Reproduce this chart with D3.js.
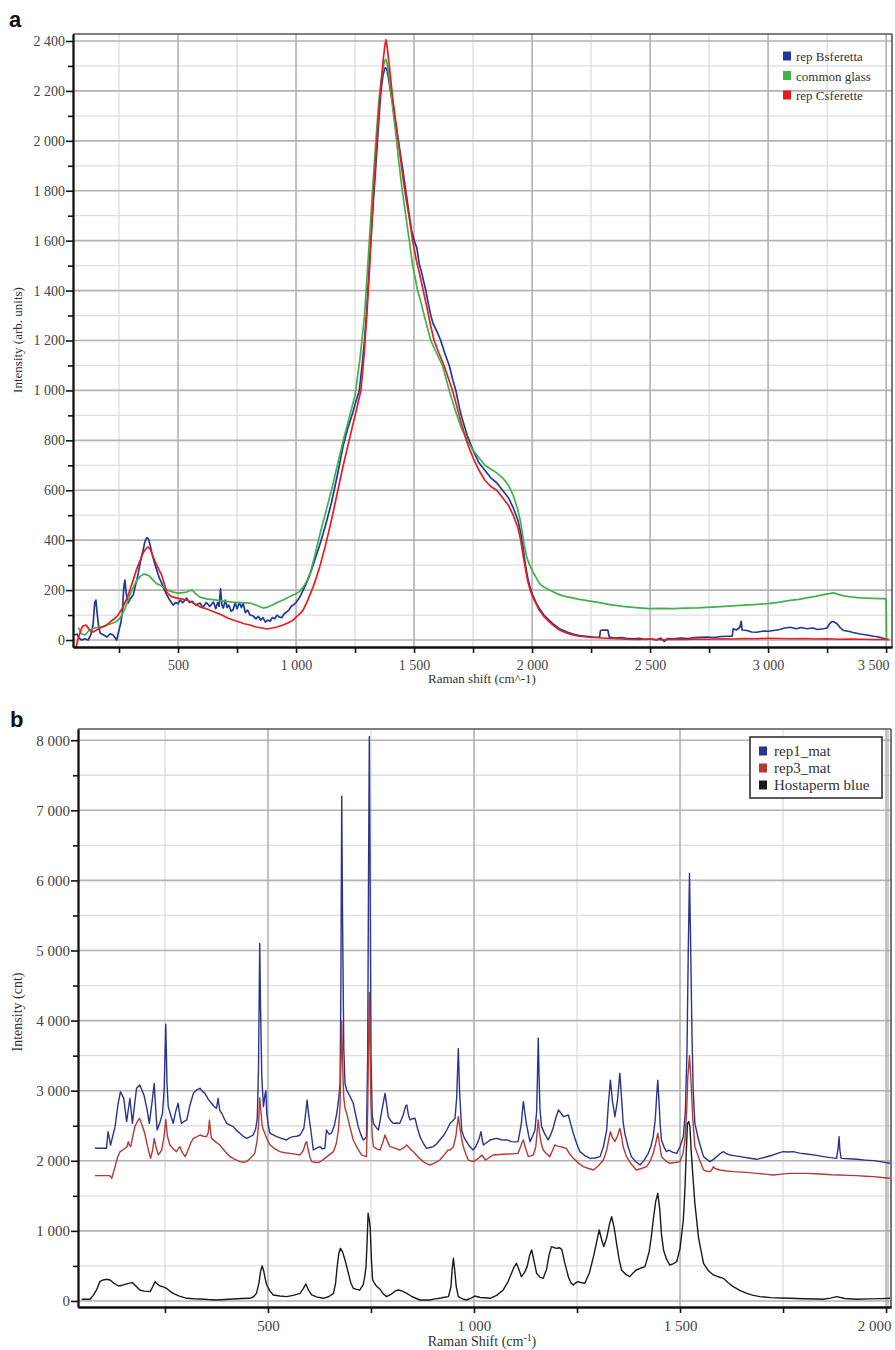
<!DOCTYPE html>
<html><head><meta charset="utf-8">
<script src="https://cdn.jsdelivr.net/npm/d3@7"></script>
<style>body{margin:0;background:#fff}svg{display:block}</style>
</head><body>
<svg id="chart" width="895" height="1350"></svg>
<script>
// ---------- Panel a data ----------
const aYTicks = [0,200,400,600,800,1000,1200,1400,1600,1800,2000,2200,2400];
const aYMinor = [100,300,500,700,900,1100,1300,1500,1700,1900,2100,2300];
const aXTicks = [500,1000,1500,2000,2500,3000,3500];
const aXMinor = [250,750,1250,1750,2250,2750,3250];
const aSeriesNames = ["rep Bsferetta","common glass","rep Csferette"];
const repB = [[60,20],[72,24],[80,8],[92,0],[105,5],[119,0],[130,20],[140,60],[147,150],[152,160],[157,110],[163,60],[170,28],[185,20],[199,12],[212,25],[225,20],[240,0],[250,40],[258,70],[265,120],[270,210],[275,240],[280,190],[288,148],[298,165],[310,180],[320,220],[330,260],[340,310],[352,360],[360,395],[368,410],[375,405],[382,380],[390,345],[400,310],[410,280],[420,250],[430,230],[440,205],[453,180],[465,160],[479,140],[490,150],[500,145],[509,160],[520,150],[537,168],[548,150],[560,155],[575,140],[593,148],[605,130],[620,150],[635,135],[650,152],[660,125],[668,150],[674,135],[680,205],[686,140],[692,128],[700,160],[708,130],[715,140],[725,115],[733,120],[742,150],[750,125],[760,150],[768,130],[776,148],[785,110],[795,120],[805,100],[819,96],[830,85],[840,95],[850,80],[860,90],[870,72],[880,80],[890,75],[900,90],[910,85],[919,100],[930,92],[940,90],[950,105],[960,112],[970,120],[980,135],[988,140],[1000,150],[1016,172],[1030,200],[1044,228],[1058,260],[1072,300],[1086,340],[1100,380],[1125,460],[1150,550],[1175,660],[1200,780],[1220,850],[1240,910],[1255,960],[1268,1000],[1280,1100],[1290,1200],[1300,1330],[1310,1500],[1320,1650],[1327,1750],[1336,1870],[1345,2000],[1352,2100],[1360,2200],[1368,2260],[1373,2280],[1378,2293],[1384,2290],[1390,2260],[1400,2200],[1410,2150],[1420,2080],[1435,1990],[1450,1900],[1465,1800],[1480,1700],[1490,1640],[1501,1600],[1512,1570],[1522,1507],[1530,1480],[1540,1440],[1550,1400],[1560,1350],[1571,1300],[1580,1270],[1590,1250],[1600,1230],[1613,1200],[1630,1150],[1649,1100],[1665,1040],[1677,1000],[1690,940],[1700,900],[1725,820],[1750,760],[1775,710],[1800,680],[1825,650],[1850,630],[1875,600],[1900,570],[1920,530],[1940,480],[1952,430],[1962,370],[1972,300],[1982,247],[1992,210],[2003,180],[2017,150],[2031,126],[2050,100],[2074,78],[2095,60],[2116,45],[2145,33],[2173,24],[2200,18],[2229,15],[2260,12],[2286,11],[2290,38],[2300,40],[2321,40],[2327,12],[2350,8],[2380,10],[2399,7],[2430,5],[2456,7],[2480,2],[2500,5],[2527,0],[2545,8],[2560,-5],[2575,6],[2598,5],[2630,8],[2660,6],[2690,10],[2711,11],[2740,12],[2770,10],[2800,14],[2838,15],[2848,15],[2852,45],[2865,40],[2880,50],[2886,75],[2890,40],[2910,38],[2930,32],[2952,31],[2980,36],[3000,35],[3023,38],[3050,42],[3070,48],[3093,51],[3120,45],[3140,50],[3164,45],[3190,48],[3210,42],[3235,45],[3250,48],[3260,65],[3270,74],[3280,72],[3292,65],[3305,50],[3320,38],[3340,35],[3360,30],[3390,24],[3420,20],[3447,15],[3470,12],[3497,4],[3510,2]];
const glass = [[78,50],[90,25],[106,20],[120,35],[140,45],[155,50],[170,52],[200,60],[225,68],[240,75],[254,88],[270,115],[284,148],[300,190],[315,220],[326,240],[340,255],[350,262],[360,264],[370,260],[380,255],[394,240],[402,232],[410,225],[420,222],[437,212],[455,200],[479,192],[500,188],[520,190],[537,192],[550,198],[560,200],[575,185],[593,172],[620,165],[645,162],[665,160],[700,155],[733,152],[770,150],[805,148],[835,138],[861,128],[880,132],[900,140],[920,150],[945,160],[965,170],[988,180],[1000,185],[1015,195],[1030,212],[1045,235],[1060,268],[1080,340],[1100,420],[1125,510],[1150,600],[1175,700],[1200,800],[1225,890],[1250,980],[1270,1120],[1290,1300],[1306,1530],[1322,1773],[1336,1970],[1350,2150],[1360,2240],[1370,2300],[1376,2320],[1381,2327],[1388,2300],[1395,2250],[1407,2150],[1420,2050],[1435,1920],[1450,1800],[1465,1700],[1480,1600],[1494,1500],[1505,1450],[1515,1400],[1530,1350],[1543,1300],[1557,1250],[1571,1200],[1595,1150],[1620,1100],[1635,1050],[1649,1000],[1675,920],[1700,850],[1725,800],[1750,760],[1775,730],[1800,700],[1825,685],[1850,670],[1875,650],[1900,620],[1920,580],[1940,520],[1952,470],[1960,420],[1967,380],[1978,330],[1990,300],[2003,274],[2017,250],[2031,227],[2050,212],[2074,200],[2100,188],[2130,177],[2165,170],[2201,163],[2240,157],[2286,150],[2330,142],[2385,135],[2440,130],[2496,126],[2550,127],[2598,126],[2650,128],[2700,129],[2739,131],[2800,134],[2850,137],[2881,139],[2940,142],[3001,146],[3050,152],[3093,159],[3130,163],[3164,169],[3200,175],[3235,182],[3260,186],[3277,189],[3300,182],[3320,177],[3350,173],[3390,169],[3440,167],[3490,166],[3500,165],[3502,4],[3510,0]];
const repC = [[68,-30],[75,0],[85,30],[95,55],[110,60],[118,50],[125,40],[140,32],[155,40],[170,48],[190,55],[212,72],[230,85],[246,100],[265,130],[284,168],[298,205],[310,240],[325,285],[340,320],[350,345],[360,360],[368,370],[375,372],[383,362],[390,345],[400,320],[410,300],[420,280],[430,262],[440,230],[453,190],[470,175],[495,168],[515,165],[537,160],[560,150],[593,133],[620,125],[645,115],[665,108],[690,98],[710,88],[733,80],[760,72],[780,65],[805,60],[830,52],[855,48],[877,44],[900,48],[920,52],[945,60],[965,68],[988,80],[1000,92],[1015,105],[1030,120],[1050,160],[1072,212],[1086,250],[1100,292],[1125,380],[1150,480],[1175,590],[1200,700],[1220,780],[1240,860],[1258,930],[1275,1000],[1288,1140],[1300,1300],[1314,1530],[1327,1773],[1341,1980],[1355,2173],[1363,2260],[1370,2330],[1376,2380],[1381,2405],[1387,2370],[1395,2300],[1402,2240],[1409,2173],[1425,2060],[1440,1950],[1452,1860],[1465,1773],[1480,1690],[1494,1600],[1510,1520],[1525,1460],[1539,1400],[1555,1330],[1570,1260],[1585,1200],[1605,1150],[1627,1100],[1645,1050],[1663,1000],[1680,940],[1700,870],[1725,790],[1750,730],[1775,680],[1800,640],[1825,615],[1850,600],[1875,570],[1900,540],[1920,500],[1940,450],[1952,400],[1962,340],[1972,285],[1982,234],[1992,200],[2003,173],[2017,145],[2031,119],[2050,95],[2074,72],[2095,55],[2116,40],[2145,28],[2173,20],[2200,15],[2243,11],[2280,9],[2314,7],[2360,5],[2400,3],[2450,2],[2500,4],[2550,1],[2600,3],[2650,2],[2700,4],[2750,3],[2800,5],[2850,4],[2900,6],[2950,5],[3000,7],[3050,6],[3100,5],[3150,6],[3200,4],[3250,5],[3300,3],[3350,4],[3400,3],[3450,2],[3500,3],[3512,1]];

// ---------- Panel b data ----------
const bYTicks = [0,1000,2000,3000,4000,5000,6000,7000,8000];
const bYMinor = [500,1500,2500,3500,4500,5500,6500,7500];
const bXTicks = [500,1000,1500,2000];
const bXMinor = [250,750,1250,1750];
const bSeriesNames = ["rep1_mat","rep3_mat","Hostaperm blue"];
const rep1 = [[80,2178],[108,2178],[112,2415],[118,2225],[129,2487],[136,2800],[142,2986],[150,2891],[157,2558],[165,2891],[171,2534],[181,3034],[189,3081],[199,2939],[206,2750],[212,2534],[218,2800],[224,3105],[228,2700],[231,2439],[238,2550],[244,2677],[248,3000],[252,3950],[255,3100],[258,2772],[264,2650],[270,2534],[276,2700],[282,2820],[286,2650],[290,2534],[296,2560],[303,2582],[311,2800],[319,2962],[327,3010],[335,3034],[341,2990],[347,2962],[355,2880],[363,2820],[370,2770],[375,2748],[379,2891],[383,2720],[388,2677],[394,2600],[400,2534],[408,2510],[416,2487],[424,2430],[432,2392],[440,2350],[448,2320],[456,2340],[464,2368],[470,2450],[474,2600],[477,3300],[480,5100],[482,4200],[485,3200],[489,2772],[493,2950],[495,3000],[497,2677],[501,2500],[505,2392],[513,2370],[521,2344],[533,2320],[545,2297],[553,2330],[561,2344],[570,2350],[578,2368],[583,2420],[587,2463],[591,2650],[595,2867],[599,2650],[604,2439],[607,2300],[610,2154],[618,2180],[626,2202],[632,2170],[638,2178],[642,2439],[648,2380],[654,2392],[661,2500],[667,2677],[671,2850],[675,3100],[677,4500],[679,7200],[681,5500],[684,3600],[687,3100],[691,3010],[699,2920],[707,2820],[713,2650],[719,2487],[725,2380],[731,2297],[736,2320],[739,2344],[742,3500],[744,6000],[746,8050],[748,6000],[750,3500],[753,2650],[756,2534],[762,2480],[768,2439],[776,2700],[784,2962],[788,2800],[792,2629],[798,2570],[804,2534],[812,2540],[820,2534],[828,2650],[834,2780],[837,2796],[841,2650],[845,2582],[851,2600],[857,2606],[863,2460],[869,2344],[877,2250],[885,2178],[893,2190],[901,2202],[909,2240],[917,2297],[926,2360],[934,2439],[942,2534],[950,2580],[954,2606],[958,2900],[962,3600],[965,3000],[970,2439],[976,2330],[982,2273],[990,2200],[998,2154],[1004,2200],[1010,2273],[1014,2350],[1017,2415],[1020,2300],[1023,2225],[1031,2260],[1039,2297],[1047,2310],[1055,2320],[1067,2300],[1080,2297],[1091,2273],[1100,2270],[1107,2273],[1111,2400],[1115,2534],[1118,2750],[1120,2844],[1123,2700],[1127,2534],[1132,2380],[1136,2273],[1142,2350],[1148,2439],[1152,2700],[1154,3200],[1156,3750],[1158,3200],[1160,2750],[1164,2487],[1172,2380],[1180,2297],[1186,2370],[1192,2463],[1198,2600],[1205,2725],[1211,2680],[1217,2629],[1223,2640],[1229,2653],[1235,2520],[1241,2392],[1249,2250],[1257,2130],[1270,2070],[1282,2035],[1294,2040],[1306,2059],[1314,2200],[1322,2439],[1326,2800],[1331,3150],[1336,2850],[1342,2629],[1348,2850],[1354,3250],[1358,2900],[1362,2550],[1366,2392],[1374,2200],[1382,2059],[1392,1990],[1403,1940],[1413,2010],[1423,2106],[1429,2200],[1435,2344],[1440,2600],[1443,2900],[1446,3150],[1449,2850],[1452,2500],[1455,2297],[1461,2200],[1467,2130],[1471,2150],[1475,2144],[1483,2120],[1492,2106],[1500,2200],[1508,2344],[1513,2700],[1517,3600],[1520,5000],[1523,6100],[1526,5000],[1529,3800],[1532,3000],[1536,2534],[1545,2300],[1557,2059],[1565,2020],[1573,1988],[1581,2020],[1589,2059],[1597,2100],[1605,2130],[1613,2100],[1621,2083],[1634,2070],[1646,2059],[1666,2040],[1686,2021],[1706,2050],[1726,2083],[1738,2110],[1750,2130],[1762,2125],[1775,2130],[1790,2110],[1807,2097],[1828,2080],[1848,2059],[1865,2045],[1880,2035],[1884,2200],[1886,2344],[1888,2150],[1891,2035],[1910,2030],[1929,2021],[1950,2010],[1970,2002],[1990,1985],[2010,1964]];
const rep3 = [[80,1788],[116,1788],[121,1750],[129,1916],[135,2050],[141,2130],[147,2150],[153,2178],[158,2200],[161,2273],[164,2220],[167,2202],[172,2350],[177,2487],[183,2560],[188,2606],[195,2500],[201,2392],[208,2200],[215,2035],[220,2150],[224,2320],[228,2200],[234,2083],[242,2150],[248,2350],[252,2591],[256,2350],[262,2225],[270,2170],[278,2130],[282,2170],[286,2202],[292,2120],[299,2059],[306,2150],[313,2260],[319,2320],[327,2340],[335,2368],[343,2350],[351,2344],[355,2400],[358,2582],[361,2400],[363,2320],[373,2270],[383,2225],[395,2140],[408,2059],[420,2020],[432,1988],[440,1980],[448,1988],[458,2040],[468,2106],[474,2300],[477,2500],[480,2900],[483,2700],[486,2500],[489,2439],[497,2320],[505,2225],[517,2170],[529,2130],[541,2115],[553,2106],[565,2095],[578,2083],[586,2150],[591,2250],[594,2273],[598,2150],[602,2050],[606,1988],[614,1980],[622,1973],[630,2000],[638,2035],[648,2080],[659,2130],[666,2250],[671,2439],[675,2800],[677,3400],[679,4000],[681,3400],[684,2900],[687,2750],[691,2677],[699,2480],[707,2297],[717,2180],[727,2083],[733,2070],[739,2059],[742,2700],[744,3600],[746,4400],[748,3600],[750,2800],[753,2350],[756,2202],[764,2170],[772,2154],[778,2250],[784,2368],[790,2280],[796,2202],[808,2180],[820,2154],[828,2180],[837,2225],[845,2170],[853,2130],[865,2050],[877,1988],[885,1960],[893,1940],[905,1970],[917,2011],[927,2080],[937,2154],[942,2154],[950,2200],[956,2350],[959,2500],[962,2630],[965,2500],[969,2350],[974,2202],[980,2100],[986,2011],[998,1988],[1010,2030],[1019,2083],[1028,2011],[1038,2050],[1047,2083],[1063,2090],[1080,2097],[1095,2100],[1107,2106],[1113,2200],[1117,2270],[1120,2297],[1124,2200],[1132,2059],[1138,2070],[1144,2083],[1150,2200],[1153,2400],[1156,2582],[1159,2400],[1163,2250],[1168,2154],[1176,2100],[1184,2059],[1190,2140],[1196,2225],[1203,2210],[1209,2202],[1217,2190],[1224,2178],[1232,2100],[1241,2035],[1253,1970],[1265,1916],[1278,1890],[1290,1869],[1302,1930],[1314,2011],[1322,2150],[1327,2300],[1331,2415],[1336,2330],[1342,2273],[1348,2350],[1354,2463],[1358,2350],[1362,2200],[1370,2059],[1382,1950],[1394,1869],[1406,1890],[1419,1916],[1428,2000],[1435,2106],[1441,2250],[1446,2392],[1450,2250],[1455,2059],[1465,2000],[1475,1964],[1488,1975],[1500,1988],[1507,2100],[1512,2297],[1516,2700],[1519,3200],[1523,3500],[1527,3100],[1531,2600],[1536,2202],[1545,2050],[1557,1869],[1565,1850],[1573,1845],[1578,1880],[1581,1916],[1585,1890],[1597,1869],[1613,1855],[1629,1845],[1660,1835],[1686,1821],[1706,1810],[1726,1797],[1747,1810],[1767,1821],[1787,1820],[1807,1821],[1828,1815],[1848,1807],[1868,1800],[1888,1797],[1908,1792],[1929,1788],[1950,1780],[1970,1774],[1990,1762],[2010,1750]];
const hostaperm = [[48,24],[68,24],[76,80],[84,157],[92,276],[100,300],[108,309],[117,300],[127,250],[137,214],[147,225],[157,243],[164,255],[171,262],[180,210],[189,157],[200,140],[214,133],[220,200],[226,276],[232,240],[238,214],[246,200],[254,181],[262,140],[270,109],[285,70],[303,38],[320,32],[335,29],[355,20],[375,14],[395,22],[416,29],[436,35],[456,38],[465,60],[472,109],[478,250],[482,420],[486,499],[490,420],[494,300],[497,228],[505,140],[513,86],[529,70],[545,62],[561,80],[578,109],[586,180],[592,243],[598,160],[606,86],[620,55],[634,38],[647,60],[659,109],[664,250],[668,490],[672,680],[676,751],[681,700],[687,585],[695,400],[701,260],[707,181],[715,165],[723,157],[731,230],[735,350],[738,490],[741,900],[743,1251],[746,1150],[748,1060],[751,600],[754,300],[762,220],[772,166],[780,100],[788,62],[800,100],[808,140],[816,157],[826,140],[837,109],[850,60],[869,14],[880,16],[893,14],[905,30],[917,38],[925,50],[938,62],[944,200],[947,450],[950,609],[953,450],[957,200],[962,62],[972,30],[982,14],[993,40],[1002,71],[1015,50],[1027,45],[1039,38],[1055,80],[1071,157],[1083,280],[1091,395],[1097,480],[1103,537],[1109,450],[1115,347],[1122,400],[1129,490],[1135,650],[1140,728],[1146,560],[1152,395],[1160,340],[1168,323],[1176,450],[1182,650],[1188,775],[1195,760],[1201,751],[1207,760],[1213,737],[1220,550],[1229,347],[1235,260],[1241,228],[1247,260],[1253,276],[1261,260],[1269,252],[1280,400],[1290,632],[1298,850],[1304,1013],[1310,870],[1315,775],[1322,900],[1329,1100],[1334,1203],[1340,1050],[1346,823],[1352,600],[1358,442],[1368,380],[1378,347],[1386,400],[1394,442],[1405,470],[1415,490],[1425,700],[1430,900],[1435,1155],[1441,1420],[1446,1536],[1451,1300],[1455,950],[1460,728],[1467,600],[1475,513],[1483,530],[1492,561],[1500,750],[1504,950],[1508,1155],[1512,1600],[1515,2100],[1518,2534],[1521,2560],[1524,2487],[1527,2150],[1531,1800],[1536,1393],[1545,900],[1557,537],[1569,430],[1581,371],[1593,345],[1605,323],[1617,260],[1629,204],[1645,150],[1662,109],[1678,80],[1694,62],[1720,48],[1745,42],[1767,38],[1800,32],[1830,28],[1848,24],[1865,40],[1880,62],[1900,35],[1929,24],[1960,30],[1990,34],[2010,38]];

// ---------- drawing ----------
const svg = d3.select("#chart");
const loc = d3.formatLocale({decimal:".", thousands:" ", grouping:[3], currency:["",""]});
const fmt = loc.format(",d");
const SERIF = "'Liberation Serif','Times New Roman',serif";

function panel(cfg, id){
  const g = svg.append("g");
  const x = d3.scaleLinear().domain(cfg.xDomain).range([cfg.left, cfg.right]);
  const y = d3.scaleLinear().domain(cfg.yDomain).range([cfg.bottom, cfg.top]);

  // grid
  const grid = g.append("g");
  cfg.yMinor.forEach(v => grid.append("line").attr("x1",cfg.left).attr("x2",cfg.right).attr("y1",y(v)).attr("y2",y(v)).attr("stroke","#dedede").attr("stroke-width",1.3));
  cfg.xMinor.forEach(v => grid.append("line").attr("x1",x(v)).attr("x2",x(v)).attr("y1",cfg.top).attr("y2",cfg.bottom).attr("stroke","#dedede").attr("stroke-width",1.3));
  cfg.yTicks.forEach(v => grid.append("line").attr("x1",cfg.left).attr("x2",cfg.right).attr("y1",y(v)).attr("y2",y(v)).attr("stroke","#b3b3b3").attr("stroke-width",1.6));
  cfg.xTicks.forEach(v => grid.append("line").attr("x1",x(v)).attr("x2",x(v)).attr("y1",cfg.top).attr("y2",cfg.bottom).attr("stroke","#b3b3b3").attr("stroke-width",1.6));

  // frame top/right
  g.append("line").attr("x1",cfg.left).attr("x2",cfg.right).attr("y1",cfg.top).attr("y2",cfg.top).attr("stroke","#555").attr("stroke-width",1.6);
  g.append("line").attr("x1",cfg.right).attr("x2",cfg.right).attr("y1",cfg.top).attr("y2",cfg.bottom).attr("stroke","#555").attr("stroke-width",1.6);
  if (cfg.doubleRight) g.append("line").attr("x1",cfg.right-3).attr("x2",cfg.right-3).attr("y1",cfg.top).attr("y2",cfg.bottom).attr("stroke","#999").attr("stroke-width",1);

  // lines
  g.append("clipPath").attr("id","clip"+id).append("rect").attr("x",cfg.left).attr("y",cfg.top).attr("width",cfg.right-cfg.left).attr("height",cfg.bottom-cfg.top);
  const line = d3.line().x(d=>x(d[0])).y(d=>y(d[1]));
  const lg = g.append("g").attr("clip-path","url(#clip"+id+")");
  cfg.series.forEach(s => lg.append("path").datum(s.data).attr("d",line).attr("fill","none").attr("stroke",s.color).attr("stroke-width",cfg.lw).attr("stroke-linejoin","round"));

  // axes
  const ax = (a) => { a.select(".domain").attr("stroke","#111").attr("stroke-width",1.8);
    a.selectAll(".tick line").attr("stroke","#111").attr("stroke-width",1.6);
    a.selectAll("text").attr("font-family",SERIF).attr("font-size",cfg.tickFont).attr("fill","#444"); };
  g.append("g").attr("transform",`translate(${cfg.left},0)`).call(d3.axisLeft(y).tickValues(cfg.yMinor).tickSize(5).tickSizeOuter(0).tickFormat("")).call(ax);
  g.append("g").attr("transform",`translate(${cfg.left},0)`).call(d3.axisLeft(y).tickValues(cfg.yTicks).tickSize(7).tickSizeOuter(0).tickPadding(1).tickFormat(fmt)).call(ax);
  g.append("g").attr("transform",`translate(0,${cfg.bottom})`).call(d3.axisBottom(x).tickValues(cfg.xMinor).tickSize(6).tickSizeOuter(0).tickFormat("")).call(ax);
  const xb = g.append("g").attr("transform",`translate(0,${cfg.bottom})`).call(d3.axisBottom(x).tickValues(cfg.xTicks).tickSize(6).tickSizeOuter(0).tickPadding(7).tickFormat(fmt)).call(ax);
  // the last label is right-aligned to its tick so it stays inside the picture, as in the reference
  const lastTick = d3.max(cfg.xTicks);
  xb.selectAll(".tick").filter(d => d === lastTick).select("text")
    .style("text-anchor","end").attr("x", cfg.lastLabelDx);

  // titles
  g.append("text").attr("x",cfg.panelX).attr("y",cfg.panelY).text(cfg.panel).attr("font-family","'Liberation Sans',Arial,sans-serif").attr("font-weight","bold").attr("font-size",22).attr("fill","#111");
  g.append("text").attr("transform",`translate(${cfg.yTitleX},${cfg.yTitleY}) rotate(-90)`).attr("text-anchor","middle").attr("font-family",SERIF).attr("font-size",cfg.titleFont).attr("fill","#333").text(cfg.yTitle);
  const xt = g.append("text").attr("x",cfg.xTitleX).attr("y",cfg.xTitleY).attr("text-anchor","middle").attr("font-family",SERIF).attr("font-size",cfg.titleFont).attr("fill","#333");
  xt.append("tspan").text(cfg.xTitle[0]);
  if (cfg.xTitle[1]) { xt.append("tspan").attr("dy",-5).attr("font-size",cfg.titleFont*0.7).text(cfg.xTitle[1]); xt.append("tspan").attr("dy",5).text(cfg.xTitle[2]); }

  // legend
  const L = cfg.legend;
  if (L.box) g.append("rect").attr("x",L.box[0]).attr("y",L.box[1]).attr("width",L.box[2]).attr("height",L.box[3]).attr("fill","#fff").attr("stroke","#333").attr("stroke-width",1.6);
  cfg.series.forEach((s,i) => {
    const yy = L.y0 + i*L.dy;
    g.append("rect").attr("x",L.x).attr("y",yy-L.sq/2-1).attr("width",L.sq-1).attr("height",L.sq).attr("fill",s.color);
    g.append("text").attr("x",L.x+L.tx).attr("y",yy+4).attr("font-family",SERIF).attr("font-size",L.font).attr("fill","#333").text(s.name);
  });
}

panel({
  left:73, right:892, top:34, bottom:647, xDomain:[55,3525], yDomain:[-28,2428],
  yTicks:aYTicks, yMinor:aYMinor, xTicks:aXTicks, xMinor:aXMinor, lw:1.7, tickFont:14, titleFont:13, lastLabelDx:3,
  series:[{name:aSeriesNames[0],data:repB,color:"#1f3a9c"},{name:aSeriesNames[1],data:glass,color:"#3fb34a"},{name:aSeriesNames[2],data:repC,color:"#ea1c1f"}],
  panel:"a", panelX:9, panelY:27, yTitle:"Intensity (arb. units)", yTitleX:22, yTitleY:340,
  xTitle:["Raman shift (cm^-1)"], xTitleX:482, xTitleY:683,
  legend:{x:783, y0:57, dy:19.5, sq:9, tx:13, font:13}
}, "a");

panel({
  left:78, right:891, top:729, bottom:1307, xDomain:[39,2012], yDomain:[-86,8160],
  yTicks:bYTicks, yMinor:bYMinor, xTicks:bXTicks, xMinor:bXMinor, lw:1.4, tickFont:15, titleFont:14, doubleRight:true, lastLabelDx:5,
  series:[{name:bSeriesNames[0],data:rep1,color:"#28348f"},{name:bSeriesNames[1],data:rep3,color:"#b53a36"},{name:bSeriesNames[2],data:hostaperm,color:"#1a1a1a"}],
  panel:"b", panelX:10, panelY:727, yTitle:"Intensity (cnt)", yTitleX:22, yTitleY:1012,
  xTitle:["Raman Shift (cm","-1",")"], xTitleX:482, xTitleY:1346,
  legend:{x:759, y0:752, dy:17, sq:9, tx:15, font:15, box:[750,737,132,61]}
}, "b");
</script>
</body></html>
